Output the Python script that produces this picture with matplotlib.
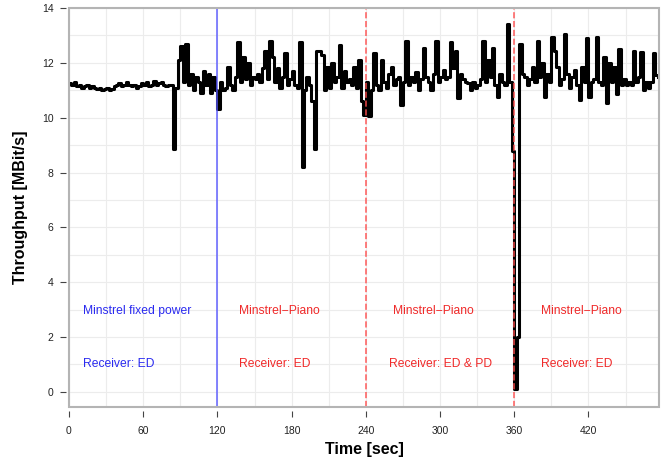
import numpy as np
import matplotlib
matplotlib.use("Agg")
import matplotlib.pyplot as plt
from matplotlib.patches import Rectangle
from matplotlib.ticker import MultipleLocator

# throughput samples, one every 2 s
t_step = 2.0
throughput = [
    # 0 - 78 s
    11.25, 11.2, 11.3, 11.15, 11.2, 11.1, 11.15, 11.2, 11.1, 11.15,
    11.1, 11.05, 11.1, 11.0, 11.05, 11.1, 11.0, 11.05, 11.15, 11.2,
    11.25, 11.15, 11.2, 11.3, 11.2, 11.15, 11.2, 11.1, 11.15, 11.25,
    11.2, 11.3, 11.15, 11.2, 11.35, 11.2, 11.25, 11.3, 11.2, 11.15,
    # 80 - 118 s
    11.2, 11.2, 8.85, 11.1, 12.1, 12.6, 11.3, 12.7, 11.2, 11.6,
    11.0, 11.5, 11.3, 10.9, 11.7, 11.2, 11.6, 10.9, 11.5, 11.0,
    # 120 - 238 s
    10.3, 11.3, 11.0, 11.1, 11.85, 11.2, 11.0, 11.5, 12.75, 11.3,
    12.2, 11.4, 12.0, 11.2, 11.5, 11.4, 11.6, 11.3, 11.8, 12.45,
    11.4, 12.8, 12.2, 11.3, 11.8, 11.1, 11.5, 12.35, 11.2, 11.4,
    11.7, 11.2, 11.1, 12.75, 8.2, 11.0, 11.5, 11.2, 10.6, 8.85,
    12.45, 12.45, 12.3, 11.0, 11.85, 11.1, 12.0, 11.3, 11.5, 12.65,
    11.1, 11.7, 11.3, 11.4, 11.2, 11.85, 11.1, 12.1, 10.6, 10.1,
    # 240 - 358 s
    11.3, 10.05, 11.0, 12.35, 11.2, 11.0, 12.1, 11.3, 11.1, 11.6,
    11.85, 11.2, 11.4, 11.5, 10.45, 11.3, 12.8, 11.2, 11.5, 11.3,
    11.65, 11.0, 11.4, 12.55, 11.5, 11.3, 11.0, 11.6, 12.8, 11.3,
    11.5, 11.75, 11.4, 11.5, 12.75, 11.8, 12.45, 10.7, 11.6, 11.4,
    11.3, 11.25, 11.0, 11.3, 11.1, 11.2, 11.4, 12.8, 11.3, 12.1,
    11.5, 12.55, 11.2, 10.75, 11.6, 11.3, 11.2, 13.4, 11.3, 8.8,
    # 360 - 476 s
    0.1, 2.0, 12.7, 11.6, 11.5, 11.2, 11.4, 11.85, 11.3, 12.8,
    11.5, 12.0, 10.75, 11.6, 11.3, 12.95, 12.45, 11.85, 11.2, 11.4,
    13.05, 11.6, 11.1, 11.5, 11.75, 11.2, 10.65, 11.85, 11.3, 12.9,
    10.75, 11.3, 11.4, 12.95, 11.3, 11.2, 12.2, 10.55, 12.0, 11.3,
    11.85, 10.85, 12.5, 11.2, 11.4, 11.2, 11.3, 11.2, 12.45, 11.3,
    11.5, 12.4, 11.0, 11.3, 11.1, 11.3, 12.35, 11.55, 11.5,
]
time_s = np.arange(len(throughput)) * t_step

phase_starts = [120, 240, 360]
phase_colors = ["#5555ff", "#ff4d4d", "#ff4d4d"]
phase_styles = ["-", "--", "--"]

label_x = [11.6, 137.5, 261.9, 381.9]
label_x2 = [11.6, 137.5, 259.1, 381.9]
label_top = ["Minstrel fixed power", "Minstrel\u2212Piano", "Minstrel\u2212Piano", "Minstrel\u2212Piano"]
label_bottom = ["Receiver: ED", "Receiver: ED", "Receiver: ED & PD", "Receiver: ED"]
label_colors = ["#2a2af0", "#f02a2a", "#f02a2a", "#f02a2a"]

plt.rcParams["font.family"] = ["Liberation Sans", "DejaVu Sans"]

fig = plt.figure(figsize=(6.7, 4.58), dpi=100)
ax = fig.add_axes([69 / 670, 1 - 407 / 458, 590 / 670, 399 / 458])

ax.step(time_s, throughput, where="post", color="black", lw=2.2, zorder=3)

for x, c, ls in zip(phase_starts, phase_colors, phase_styles):
    ax.axvline(x, color=c, ls=ls, lw=1.2, alpha=0.85, zorder=4)

for x, x2, a, b, c in zip(label_x, label_x2, label_top, label_bottom, label_colors):
    ax.text(x, 2.95, a, color=c, fontsize=8.7, va="center", ha="left")
    ax.text(x2, 1.0, b, color=c, fontsize=8.7, va="center", ha="left")

ax.set_xlim(0, 477)
ax.set_ylim(-0.55, 14)
ax.xaxis.set_major_locator(MultipleLocator(60))
ax.xaxis.set_minor_locator(MultipleLocator(30))
ax.yaxis.set_major_locator(MultipleLocator(2))
ax.yaxis.set_minor_locator(MultipleLocator(1))
ax.grid(True, which="both", color="#ececec", lw=0.8, zorder=0)
ax.set_axisbelow(True)

# R-style: box in gray, ticks detached from it
for s in ax.spines.values():
    s.set_visible(False)
ax.spines["left"].set_position(("outward", 2))
ax.spines["bottom"].set_position(("outward", 3))
ax.add_patch(Rectangle((0, 0), 1, 1, transform=ax.transAxes, fill=False,
                       edgecolor="#b4b4b4", lw=1.5, clip_on=False, zorder=5))
ax.tick_params(which="major", direction="out", length=4, width=0.8,
               color="#444444", labelsize=7.5, labelcolor="#222222")
ax.tick_params(axis="x", which="major", pad=7)
ax.tick_params(axis="y", which="major", pad=5)
ax.tick_params(which="minor", length=0)

ax.set_xlabel("Time [sec]", fontsize=11.5, fontweight="bold", labelpad=4)
ax.set_ylabel("Throughput [MBit/s]", fontsize=11.5, fontweight="bold", labelpad=10)

fig.savefig("out.png", dpi=100)
